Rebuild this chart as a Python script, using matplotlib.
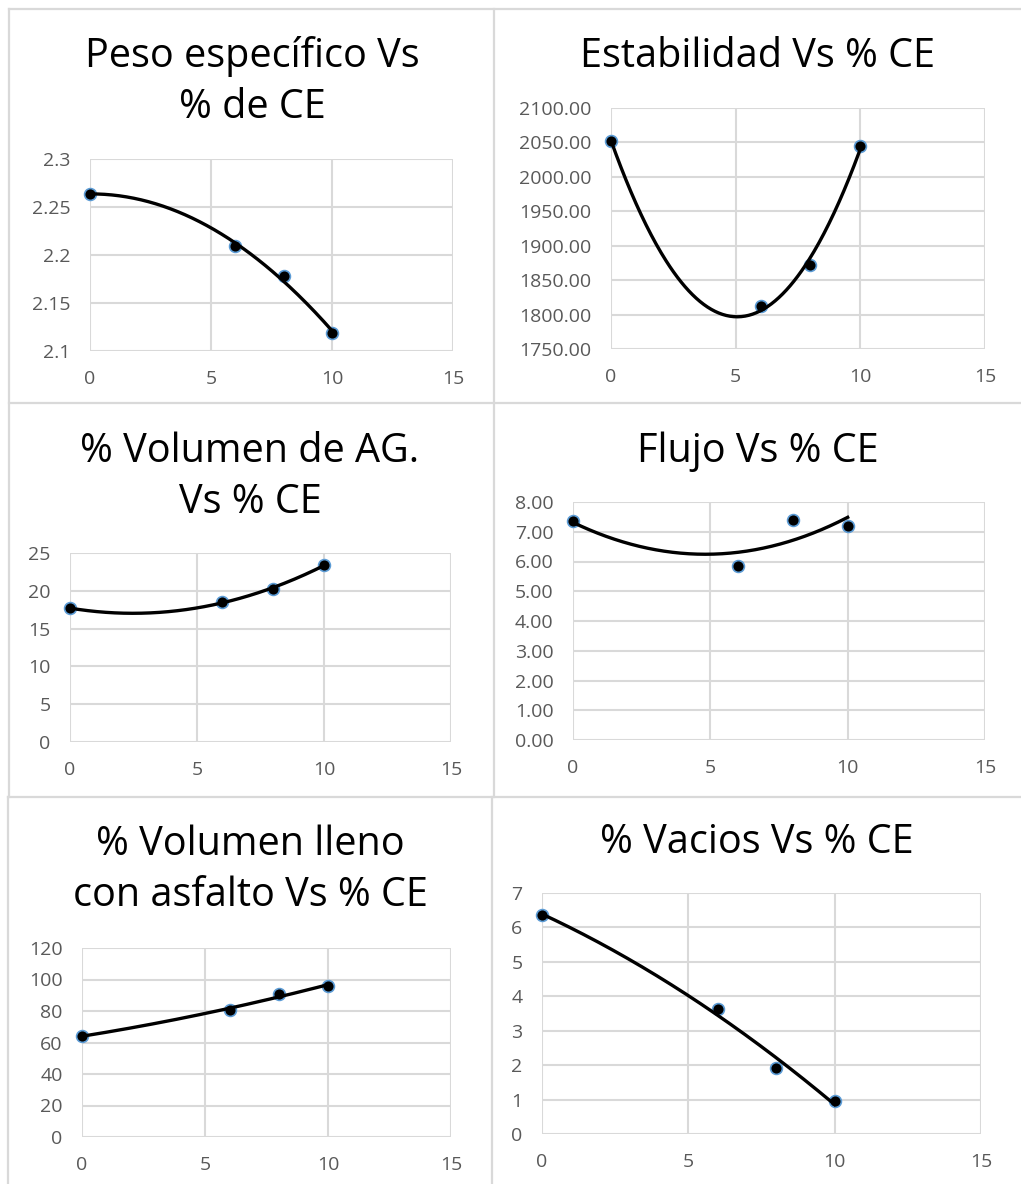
import matplotlib
matplotlib.use('Agg')
import matplotlib.pyplot as plt
from matplotlib.lines import Line2D
import numpy as np

plt.rcParams['font.family'] = ['Open Sans', 'DejaVu Sans']

W = 1021
H = 1184

# % CE on x axis
ce = [0, 6, 8, 10]

peso = [2.264, 2.209, 2.178, 2.119]
estabilidad = [2052.0, 1813.0, 1872.0, 2045.0]
vol_ag = [17.7, 18.5, 20.3, 23.4]
flujo = [7.36, 5.85, 7.40, 7.21]
vol_lleno = [64.1, 80.4, 91.0, 95.9]
vacios = [6.37, 3.64, 1.93, 0.97]

titles = ['Peso específico Vs\n% de CE',
          'Estabilidad Vs % CE',
          '% Volumen de AG.\nVs % CE',
          'Flujo Vs % CE',
          '% Volumen lleno\ncon asfalto Vs % CE',
          '% Vacios Vs % CE']

yticks_list = [[2.1, 2.15, 2.2, 2.25, 2.3],
               [1750, 1800, 1850, 1900, 1950, 2000, 2050, 2100],
               [0, 5, 10, 15, 20, 25],
               [0, 1, 2, 3, 4, 5, 6, 7, 8],
               [0, 20, 40, 60, 80, 100, 120],
               [0, 1, 2, 3, 4, 5, 6, 7]]
yfmt = ['{:g}', '{:.2f}', '{:g}', '{:.2f}', '{:g}', '{:g}']
xticks = [0, 5, 10, 15]

series = [peso, estabilidad, vol_ag, flujo, vol_lleno, vacios]

# plot areas in pixels: left, right, top, bottom
boxes = [(90, 453, 159, 351),
         (611, 985, 108, 349),
         (70, 451, 553, 742),
         (573, 985, 502, 740),
         (82, 451, 948, 1137),
         (542, 981, 893, 1134)]
# title: center x, baseline of the first line
title_pos = [(252, 67), (758, 67), (250, 462), (758, 462), (250, 855), (757, 853)]

fig = plt.figure(figsize=(W / 100, H / 100), dpi=100)

grid_c = '#d9d9d9'
for (l, r, t, b), ys, yt, fmt in zip(boxes, series, yticks_list, yfmt):
    ax = fig.add_axes([l / W, 1 - b / H, (r - l) / W, (b - t) / H])
    ax.set_xlim(0, 15)
    ax.set_ylim(yt[0], yt[-1])
    ax.set_xticks(xticks)
    ax.set_yticks(yt)
    ax.set_yticklabels([fmt.format(v) for v in yt])
    ax.grid(True, color=grid_c, linewidth=1.5)
    ax.set_axisbelow(True)
    for s in ax.spines.values():
        s.set_visible(False)
    ax.tick_params(length=0, pad=14, labelsize=14, labelcolor='#595959')
    # polynomial (order 2) trendline like in Excel
    coef = np.polyfit(ce, ys, 2)
    xs = np.linspace(min(ce), max(ce), 200)
    ax.plot(xs, np.polyval(coef, xs), color='black', linewidth=2.4, zorder=4, clip_on=False)
    ax.plot(ce, ys, 'o', color='black', markersize=8.5, markeredgecolor='#5b9bd5',
            markeredgewidth=1.2, zorder=3, clip_on=False)

for (cx, by), title in zip(title_pos, titles):
    for i, line in enumerate(title.split('\n')):
        fig.text(cx / W, 1 - (by + i * 51) / H, line, ha='center', va='baseline',
                 fontsize=28.5, color='black')

# chart borders
def hline(y, x0, x1):
    fig.add_artist(Line2D([x0 / W, x1 / W], [1 - y / H, 1 - y / H], color=grid_c, linewidth=1.6))

def vline(x, y0, y1):
    fig.add_artist(Line2D([x / W, x / W], [1 - y0 / H, 1 - y1 / H], color=grid_c, linewidth=1.6))

hline(9, 9, W)
hline(403, 9, W)
hline(797, 8, W)
vline(9, 9, 797)
vline(8, 797, H)
vline(494, 9, 797)
vline(492, 797, H)

fig.savefig('out.png', dpi=100)
